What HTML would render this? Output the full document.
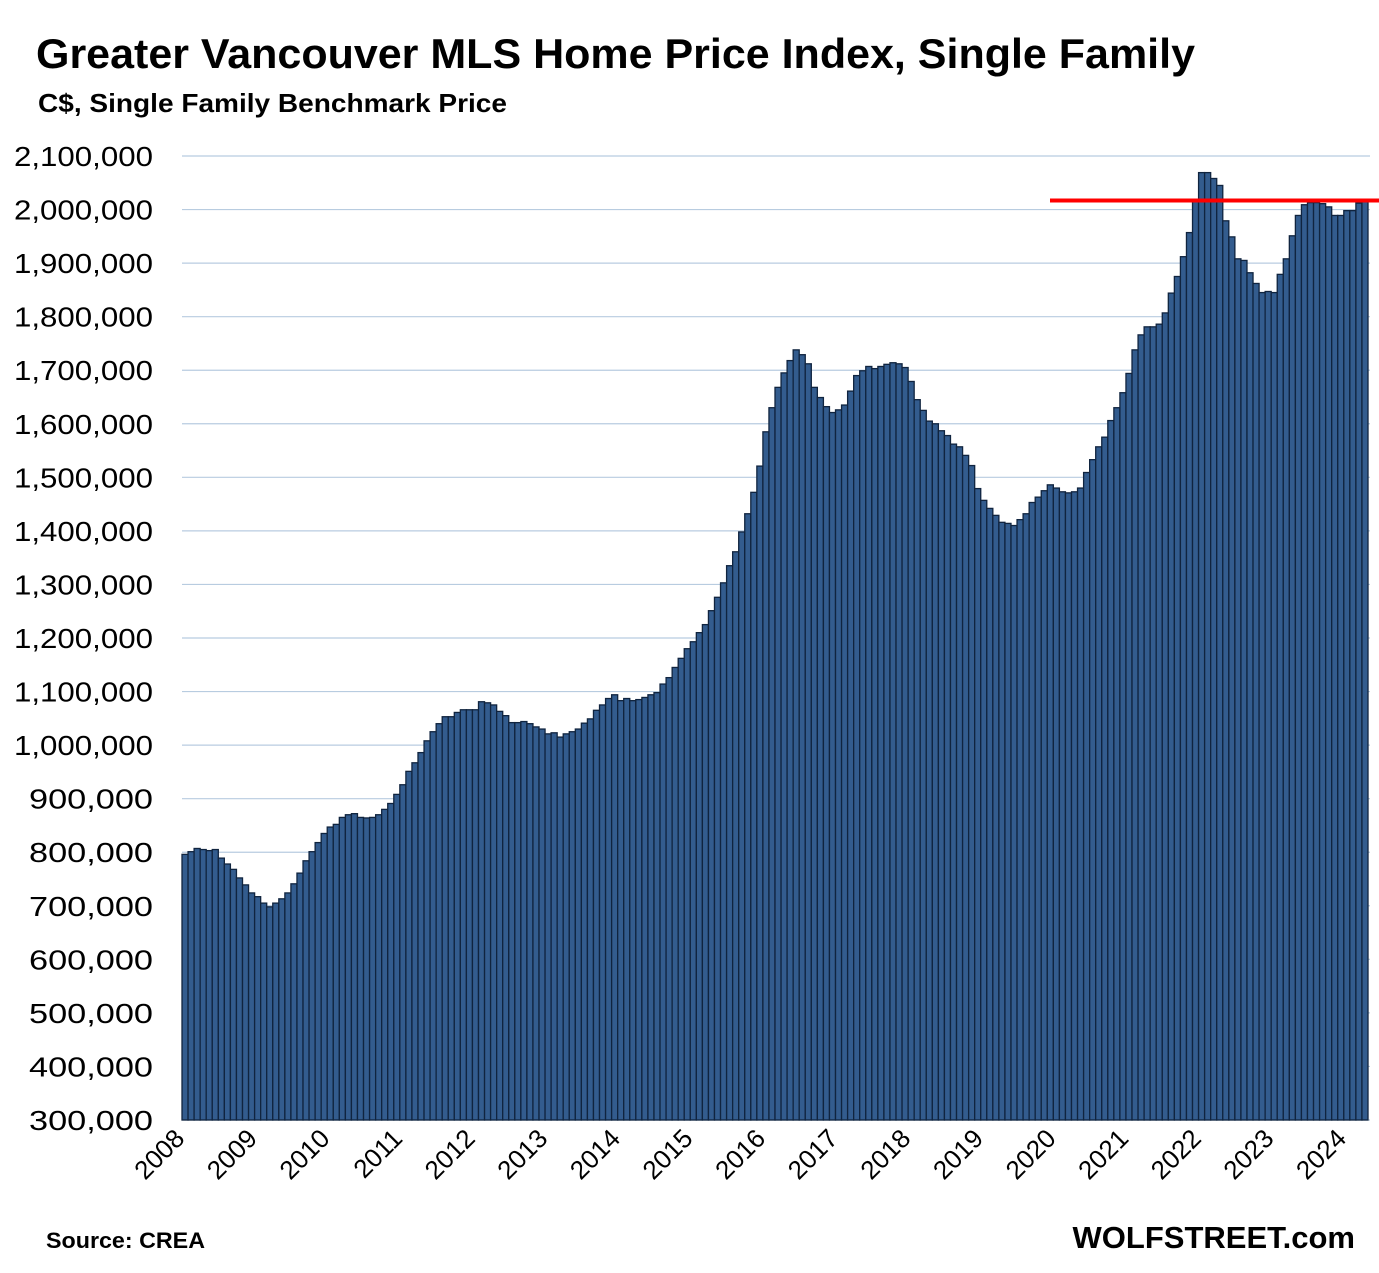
<!DOCTYPE html>
<html><head><meta charset="utf-8"><style>
body{margin:0;background:#fff;}
svg{display:block;font-family:"Liberation Sans",Calibri,sans-serif;}
</style></head><body>
<svg id="chart" width="1379" height="1273" viewBox="0 0 1379 1273">
<text x="36" y="68" font-size="42" font-weight="bold" fill="#000" textLength="1159" lengthAdjust="spacingAndGlyphs">Greater Vancouver MLS Home Price Index, Single Family</text>
<text x="38" y="112" font-size="26" font-weight="bold" fill="#000" textLength="469" lengthAdjust="spacingAndGlyphs">C$, Single Family Benchmark Price</text>
<g id="grid"></g>
<g id="yticks"></g>
<g id="bars"></g>
<g id="xticks"></g>
<line id="refline" x1="1050" x2="1379" stroke="#ff0000" stroke-width="4"/>
<text x="46" y="1248" font-size="22" font-weight="bold" fill="#000" textLength="159" lengthAdjust="spacingAndGlyphs">Source: CREA</text>
<text x="1355" y="1248" font-size="31" font-weight="bold" fill="#000" text-anchor="end">WOLFSTREET.com</text>
</svg>
<script>
const values = [796,801,807,805,803,805,789,778,768,752,739,724,717,705,698,705,713,724,741,761,784,801,818,835,847,852,865,870,872,865,864,865,870,880,891,908,926,951,967,986,1008,1025,1040,1053,1053,1061,1066,1066,1066,1081,1079,1075,1063,1055,1042,1042,1044,1040,1034,1030,1021,1023,1015,1021,1025,1030,1041,1049,1065,1075,1087,1094,1083,1087,1083,1085,1089,1094,1098,
1114,1126,1145,1162,1180,1193,1210,1225,1251,1276,1303,1335,1361,1398,1432,1472,1521,1585,1630,1668,1695,1718,1738,1729,1712,1668,1649,1632,1621,1626,1635,1661,1690,1699,1707,1703,1707,1711,1714,1712,1705,1679,1645,1625,1605,1600,1587,1578,1562,1557,1541,1522,1479,1457,1442,1429,1416,1414,1410,1421,1432,
1453,1463,1475,1486,1480,1473,1471,1473,1480,1509,1533,1557,1575,1606,1630,1658,1694,1738,1766,1781,1781,1786,1807,1844,1875,1912,1957,2015,2069,2069,2058,2045,1979,1949,1908,1905,1882,1862,1845,1847,1845,1879,1908,1951,1989,2009,2013,2013,2011,2005,1989,1989,1998,1998,2012,2015];
const yTicks = [300,400,500,600,700,800,900,1000,1100,1200,1300,1400,1500,1600,1700,1800,1900,2000,2100];
const yearLabels = ["2008","2009","2010","2011","2012","2013","2014","2015","2016","2017","2018","2019","2020","2021","2022","2023","2024"];
const refValue = 2017;

const NS="http://www.w3.org/2000/svg";
const X0=182, X1=1368, Y0=1120, Y1=156, VMIN=300, VMAX=2100;
const bw=(X1-X0)/values.length;
function y(v){return Y0-(v-VMIN)/(VMAX-VMIN)*(Y0-Y1);}
function x(i){return X0+i*bw;}
function mk(tag,attrs,parent){const e=document.createElementNS(NS,tag);for(const k in attrs)e.setAttribute(k,attrs[k]);parent.appendChild(e);return e;}

const grid=document.getElementById('grid'), yt=document.getElementById('yticks');
yTicks.forEach(t=>{
  const l=mk('line',{x1:X0,x2:1370,y1:y(t),y2:y(t),stroke:'#b8cce0','stroke-width':1.2},grid);
  
  
  const label=t.toLocaleString('en-US')+',000';
  const w=label.length===9?139:124;
  const tx=mk('text',{x:153,y:y(t)+10,'font-size':28,'text-anchor':'end',fill:'#000',textLength:w,lengthAdjust:'spacingAndGlyphs'},yt);
  tx.textContent=label;
  
  
});
const bars=document.getElementById('bars');
values.forEach((v,i)=>{
  const r=mk('rect',{x:x(i),y:y(v),width:bw,height:Y0-y(v),fill:'#335c8e',stroke:'#10243f','stroke-width':1.3},bars);
  
  
});
const xt=document.getElementById('xticks');
yearLabels.forEach((lab,i)=>{
  const px=x(i*12)+4, py=1140;
  const t=mk('text',{x:px,y:py,'font-size':26,'text-anchor':'end',fill:'#000',transform:'rotate(-45 '+px+' '+py+')'},xt);
  t.textContent=lab;
  
  
});
const rl=document.getElementById('refline');
rl.setAttribute('y1',y(refValue));rl.setAttribute('y2',y(refValue));
</script>
</body></html>
